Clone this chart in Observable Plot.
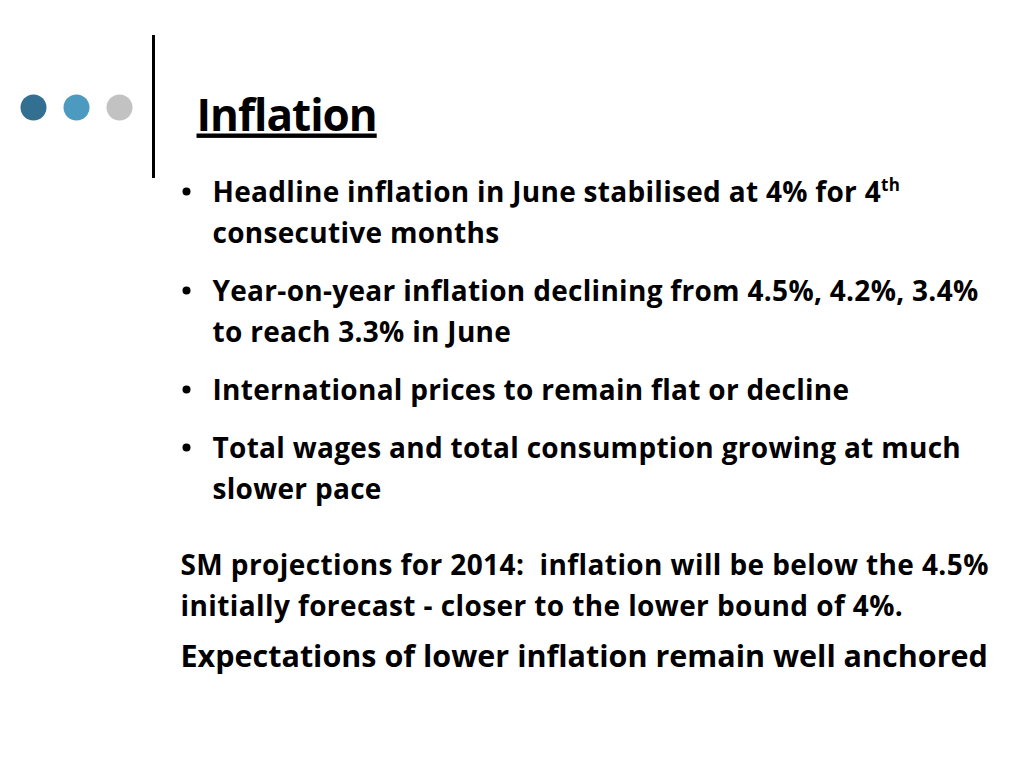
<!DOCTYPE html>
<html>
<head>
<meta charset="utf-8">
<script src="https://cdn.jsdelivr.net/npm/d3@7"></script>
<script src="https://cdn.jsdelivr.net/npm/@observablehq/plot@0.6"></script>
<style>
  html, body { margin: 0; padding: 0; background: #fff; }
  #chart svg { display: block; }
  #chart text { font-variant-ligatures: none; }
</style>
</head>
<body>
<div id="chart"></div>
<script>
// ---- content ----
const dotColors = ["#326f91", "#4d9ac0", "#c2c2c2"];
const title = "Inflation";
const bullets = [
  ["Headline inflation in June stabilised at 4% for 4", "consecutive months"],
  ["Year-on-year inflation declining from 4.5%, 4.2%, 3.4%", "to reach 3.3% in June"],
  ["International prices to remain flat or decline"],
  ["Total wages and total consumption growing at much", "slower pace"]
];
const superscript = "th";
const projection = [
  "SM projections for 2014:  inflation will be below the 4.5%",
  "initially forecast - closer to the lower bound of 4%."
];
const conclusion = "Expectations of lower inflation remain well anchored";

// ---- layout (slide units) ----
const FONT = "'Open Sans', Lato, sans-serif";
const bulletRows = [];
let yb = 201;
bullets.forEach((lines) => {
  lines.forEach((t, j) => {
    bulletRows.push({text: t, y: yb + j * 41, first: j === 0});
  });
  yb += (lines.length - 1) * 41 + 58;
});
const projRows = projection.map((t, i) => ({text: t, y: 574 + i * 41}));
const dots = dotColors.map((c, i) => ({x: 33 + i * 43, y: 107, c}));

const chart = Plot.plot({
  width: 1024,
  height: 768,
  margin: 0,
  x: {domain: [0, 1024], range: [0, 1024], axis: null},
  y: {domain: [0, 768], range: [0, 768], axis: null},
  style: {background: "#fff"},
  marks: [
    Plot.dot(dots, {x: "x", y: "y", r: 13, fill: "c", stroke: null}),
    Plot.ruleX([153], {y1: 35, y2: 178, stroke: "#000", strokeWidth: 3}),
    Plot.text([title], {x: 196, y: 130, text: d => d, textAnchor: "start", lineAnchor: "bottom",
      fontSize: 44, fontWeight: "bold", fontFamily: FONT, fill: "#000", className: "ttl"}),
    Plot.dot(bulletRows.filter(d => d.first), {x: 186, y: d => d.y - 10, r: 4, fill: "#000", stroke: null}),
    Plot.text(bulletRows, {x: 212, y: "y", text: "text", textAnchor: "start", lineAnchor: "bottom",
      fontSize: 28, fontWeight: "bold", fontFamily: FONT, fill: "#000", className: "blt"}),
    Plot.text(projRows, {x: 180, y: "y", text: "text", textAnchor: "start", lineAnchor: "bottom",
      fontSize: 28, fontWeight: "bold", fontFamily: FONT, fill: "#000", className: "prj"}),
    Plot.text([conclusion], {x: 180, y: 666, text: d => d, textAnchor: "start", lineAnchor: "bottom",
      fontSize: 30.5, fontWeight: "bold", fontFamily: FONT, fill: "#000"})
  ]
});
document.getElementById("chart").appendChild(chart);

// styling tweaks: underline, letter spacing, superscript
const svg = d3.select(chart);
svg.selectAll(".ttl text").style("text-decoration", "underline").style("letter-spacing", "-1px");
svg.selectAll(".blt text").style("letter-spacing", "0.3px");
svg.selectAll(".prj text").style("letter-spacing", "0.4px");
svg.selectAll("text").filter(function () { return this.textContent === bullets[0][0]; })
  .append("tspan").attr("dy", -11).attr("font-size", 17).text(superscript);
</script>
</body>
</html>
